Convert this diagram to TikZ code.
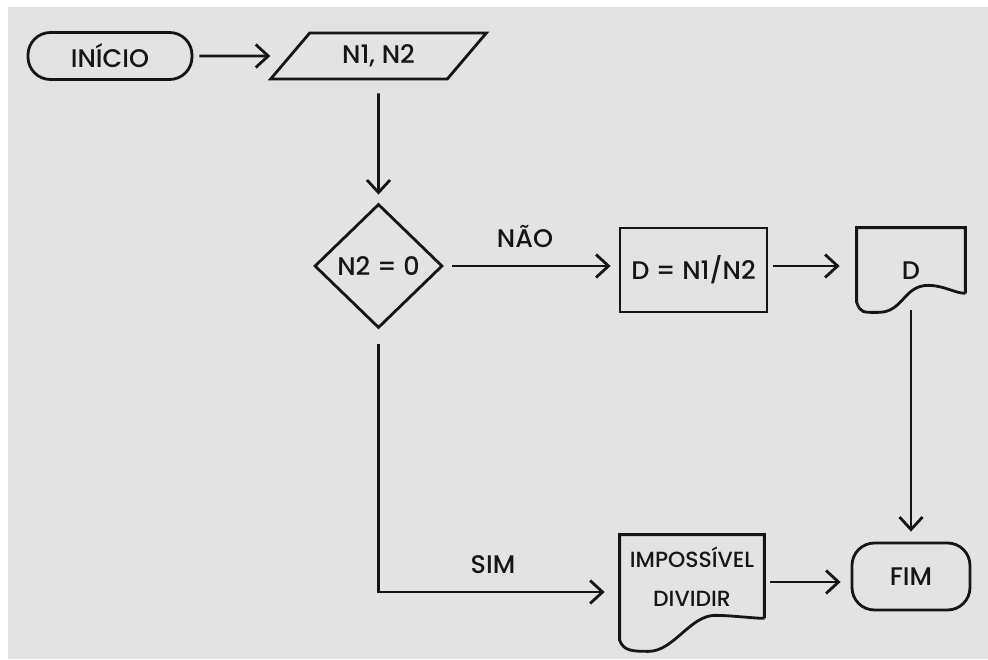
\documentclass[tikz,border=0pt]{standalone}
\usepackage{fontspec}
\setmainfont{Poppins Medium}
\usetikzlibrary{shapes.geometric,arrows.meta,calc}

\definecolor{fundo}{RGB}{227,227,227}
\definecolor{traco}{RGB}{22,22,22}

\tikzset{
  linha/.style={draw=traco, line width=1.6pt},
  flecha/.style={linha, -{Straight Barb[length=0.25cm,width=0.46cm]}},
  terminal/.style={linha, rectangle, rounded corners=0.45cm},
  entrada/.style={linha, trapezium, trapezium left angle=55, trapezium right angle=125, trapezium stretches=true},
  decisao/.style={linha, diamond, aspect=1, inner sep=0pt},
  processo/.style={linha, rectangle},
  doc/.style={rectangle, draw=none, align=center}
}

% contorno de documento: topo reto e base ondulada
\newcommand{\documento}[4]{%
  \draw[linha] (#1.south east) -- (#1.north east) -- (#1.north west) -- ([yshift=-#4]#1.south west)
    .. controls +(0.08,-0.22) and +(-0.3,0) .. ([yshift=-#3]$(#1.south west)!0.2!(#1.south east)$)
    .. controls +(0.5,0) and +(-0.5,0) .. ([yshift=#2]$(#1.south west)!0.66!(#1.south east)$)
    .. controls +(0.3,0) and +(-0.2,0) .. (#1.south east);
}

\begin{document}
\begin{tikzpicture}[font=\fontsize{14.5}{16}\selectfont, text=traco]
    \useasboundingbox (0,0) rectangle (19.76,13.18);
    \fill[fundo] (0.16,0) rectangle (19.76,13.04);

    \node[terminal, minimum width=3.28cm, minimum height=0.94cm] (inicio) at (2.2,12.06) {INÍCIO};
    \node[entrada, minimum width=4.34cm, minimum height=0.92cm] (leitura) at (7.57,12.06) {N1, N2};
    \node[decisao, minimum width=2.56cm, minimum height=2.48cm] (teste) at (7.57,7.86) {N2 = 0};
    \node[processo, minimum width=2.94cm, minimum height=1.68cm] (divisao) at (13.87,7.78) {D = N1/N2};
    \node[doc, minimum width=2.16cm, minimum height=1.3cm, text height=0.75cm, text depth=0cm] (saida) at (18.22,7.97) {D};
    \node[doc, minimum width=2.88cm, minimum height=1.66cm, font=\fontsize{12.5}{22}\selectfont] (aviso) at (13.84,1.65) {IMPOSSÍVEL\\DIVIDIR};
    \node[terminal, minimum width=2.36cm, minimum height=1.34cm] (fim) at (18.22,1.65) {FIM};
    \documento{saida}{0.16cm}{0.38cm}{0.18cm}
    \documento{aviso}{0.06cm}{0.66cm}{0.44cm}

    \node (nao) at (10.5,8.44) {NÃO};
    \node (sim) at (9.86,1.88) {SIM};

    \draw[flecha, shorten <=0.12cm, shorten >=0.36cm] (inicio) -- (leitura);
    \draw[flecha, shorten <=0.26cm, shorten >=0.16cm] (leitura) -- (teste);
    \draw[flecha, shorten <=0.16cm, shorten >=0.16cm] (teste.east) -- (teste.east -| divisao.west);
    \draw[flecha, shorten <=0.1cm, shorten >=0.34cm] (divisao.east |- teste.east) -- (teste.east -| saida.west);
    \draw[flecha, shorten <=0.34cm, shorten >=0.2cm] (saida.south) -- (fim.north);
    \draw[flecha, shorten <=0.3cm, shorten >=0.3cm] (teste.south) |- ([yshift=-0.31cm]aviso.west);
    \draw[flecha, shorten <=0.12cm, shorten >=0.2cm] ([yshift=-0.11cm]aviso.east) -- ([yshift=-0.11cm]aviso.east -| fim.west);
\end{tikzpicture}
\end{document}
